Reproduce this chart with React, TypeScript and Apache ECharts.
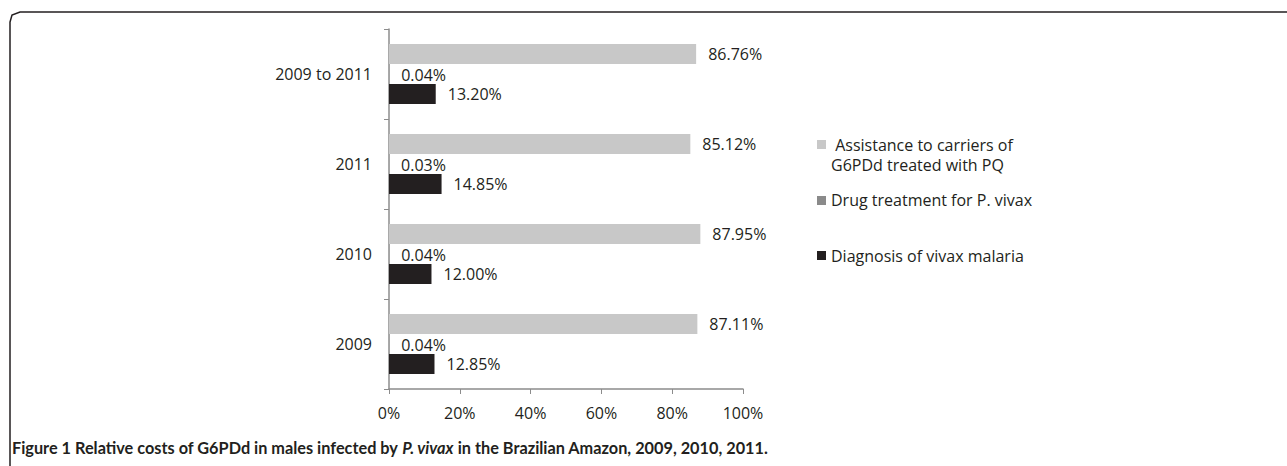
import React, { useEffect, useRef } from "react";
import * as echarts from "echarts";

const categories = ["2009", "2010", "2011", "2009 to 2011"];
const diagnosis = [12.85, 12.0, 14.85, 13.2];
const drugTreatment = [0.04, 0.04, 0.03, 0.04];
const assistance = [87.11, 87.95, 85.12, 86.76];
const xTicks = [0, 20, 40, 60, 80, 100];

const seriesNames = [
  "Assistance to carriers of G6PDd treated with PQ",
  "Drug treatment for P. vivax",
  "Diagnosis of vivax malaria",
];
const colors = { assistance: "#c8c8c8", drug: "#8a8a8a", diagnosis: "#231f20" };
const FONT = "Open Sans";
const CAPTION_FONT = "Lato";
const FS = 16;

export default function App() {
  const ref = useRef<HTMLDivElement>(null);
  useEffect(() => {
    if (!ref.current) return;
    const chart = echarts.init(ref.current, null, { renderer: "svg" });
    const label = {
      show: true,
      position: "right",
      distance: 12,
      color: "#231f20",
      fontFamily: FONT,
      fontSize: FS,
      formatter: (p: any) => p.value.toFixed(2) + "%",
    };
    chart.setOption({
      animation: false,
      backgroundColor: "#ffffff",
      grid: { left: 389, top: 29, width: 354, height: 360, containLabel: false },
      xAxis: {
        type: "value",
        min: xTicks[0],
        max: xTicks[xTicks.length - 1],
        interval: 20,
        axisLine: { show: true, lineStyle: { color: "#8c8c8c", width: 1.5 } },
        axisTick: { show: true, length: 5, lineStyle: { color: "#8c8c8c" } },
        splitLine: { show: false },
        axisLabel: {
          margin: 16,
          color: "#231f20",
          fontFamily: FONT,
          fontSize: FS,
          formatter: (v: number) => v + "%",
        },
      },
      yAxis: {
        type: "category",
        data: categories,
        axisLine: { show: true, lineStyle: { color: "#8c8c8c", width: 1.5 } },
        axisTick: { show: true, length: 5, lineStyle: { color: "#8c8c8c" } },
        axisLabel: { margin: 17, color: "#231f20", fontFamily: FONT, fontSize: FS },
      },
      series: [
        {
          name: seriesNames[0],
          type: "bar",
          data: assistance,
          itemStyle: { color: colors.assistance },
          barGap: "0%",
          barCategoryGap: "33.3%",
          label,
        },
        {
          name: seriesNames[1],
          type: "bar",
          data: drugTreatment,
          itemStyle: { color: colors.drug },
          label: { ...label, offset: [0, 1] },
        },
        {
          name: seriesNames[2],
          type: "bar",
          data: diagnosis,
          itemStyle: { color: colors.diagnosis },
          label,
        },
      ],
      graphic: [
        {
          type: "polyline",
          shape: { points: [[10, 466], [10, 22], [12, 15], [20, 12], [1287, 12]] },
          style: { stroke: "#231f20", lineWidth: 1.5, fill: "none" },
        },
        { type: "rect", shape: { x: 817, y: 140, width: 9, height: 9 }, style: { fill: colors.assistance } },
        { type: "rect", shape: { x: 817, y: 196, width: 9, height: 9 }, style: { fill: colors.drug } },
        { type: "rect", shape: { x: 817, y: 251, width: 9, height: 9 }, style: { fill: colors.diagnosis } },
        {
          type: "text",
          x: 831,
          y: 135,
          style: {
            text: " Assistance to carriers of\nG6PDd treated with PQ",
            fill: "#231f20",
            font: `${FS}px ${FONT}`,
            lineHeight: 20,
            verticalAlign: "top",
          },
        },
        {
          type: "text",
          x: 831,
          y: 200,
          style: { text: "Drug treatment for P. vivax", fill: "#231f20", font: `${FS}px ${FONT}`, verticalAlign: "middle" },
        },
        {
          type: "text",
          x: 831,
          y: 256,
          style: { text: "Diagnosis of vivax malaria", fill: "#231f20", font: `${FS}px ${FONT}`, verticalAlign: "middle" },
        },
        {
          type: "text",
          x: 12,
          y: 447,
          style: {
            text: "{b|Figure 1 Relative costs of G6PDd in males infected by }{i|P. vivax}{b| in the Brazilian Amazon, 2009, 2010, 2011.}",
            verticalAlign: "middle",
            rich: {
              b: { fontFamily: CAPTION_FONT, fontWeight: "bold", fontSize: 16.3, fill: "#231f20" },
              i: { fontFamily: CAPTION_FONT, fontWeight: "bold", fontStyle: "italic", fontSize: 16.3, fill: "#231f20" },
            },
          },
        },
      ],
    });
    return () => chart.dispose();
  }, []);
  return (
    <div
      ref={ref}
      style={{ position: "absolute", left: 0, top: 0, width: 1287, height: 466 }}
    />
  );
}
